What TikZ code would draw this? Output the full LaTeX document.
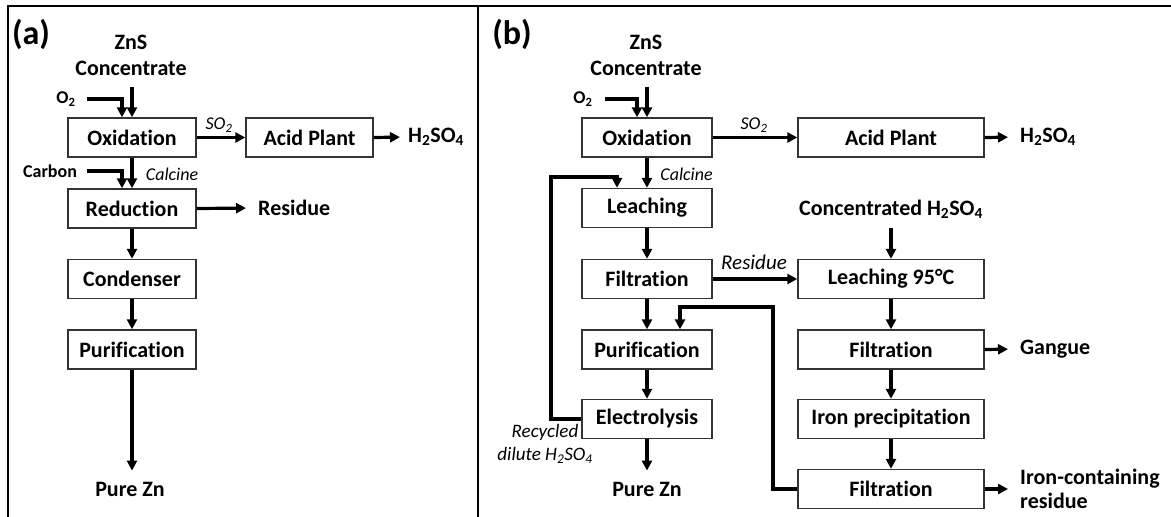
\documentclass[tikz,border=0pt]{standalone}
\usepackage{fontspec}
\setmainfont{Carlito}[Ligatures={NoCommon,NoContextual,NoRare,NoDiscretionary}]
\usetikzlibrary{arrows.meta}
\begin{document}
\begin{tikzpicture}[x=1pt,y=-1pt,
  box/.style={draw=black!80, line width=1.4pt, minimum height=39pt, inner sep=0pt, font=\fontsize{22}{26}\selectfont\bfseries},
  lbl/.style={inner sep=0pt, font=\fontsize{22}{26}\selectfont\bfseries},
  smlbl/.style={inner sep=0pt, font=\fontsize{18}{20}\selectfont\bfseries},
  itlbl/.style={inner sep=0pt, font=\fontsize{18}{20}\selectfont\itshape},
  panel/.style={inner sep=0pt, font=\fontsize{34}{34}\selectfont\bfseries},
  arr/.style={line width=3.2pt, -{Triangle[length=10pt,width=10pt]}},
  framel/.style={line width=2pt}]
\useasboundingbox (0,0) rectangle (1171,517);
% frame
\draw[framel] (8,517) -- (8,6) -- (1171,6);
\draw[framel] (478,6) -- (478,517);

% ---------------- panel (a)
\node[panel] (pa) at (31,34) {(a)};
\node[lbl, align=center] (zna) at (131,55) {ZnS\\Concentrate};
\node[smlbl] (o2a) at (66,99) {O\textsubscript{2}};
\node[box, minimum width=128pt] (oxa) at (132,137.5) {Oxidation};
\node[box, minimum width=127pt] (aca) at (309.5,137.5) {Acid Plant};
\node[lbl, anchor=west] (h2a) at (408,137) {H\textsubscript{2}SO\textsubscript{4}};
\node[itlbl] (so2a) at (219,125) {SO\textsubscript{2}};
\node[smlbl] (cba) at (50,171) {Carbon};
\node[itlbl] (cca) at (172,174) {Calcine};
\node[box, minimum width=128pt] (reda) at (132,208.5) {Reduction};
\node[lbl, anchor=west] (resa) at (258,208) {Residue};
\node[box, minimum width=128pt] (cona) at (132,279) {Condenser};
\node[box, minimum width=128pt] (pura) at (132,349.5) {Purification};
\node[lbl] (pza) at (130,489) {Pure Zn};

\draw[arr, shorten <=12pt] (oxa.north |- zna.south) -- (oxa.north);
\draw[arr, shorten <=11pt] (o2a.east) -| ([xshift=-10pt]oxa.north);
\draw[arr] (oxa.east) -- (aca.west);
\draw[arr, shorten >=8pt] (aca.east) -- (h2a.west);
\draw[arr] (oxa.south) -- (reda.north);
\draw[arr, shorten <=10pt] (cba.east) -| ([xshift=-10pt]reda.north);
\draw[arr, shorten >=12pt] (reda.east) -- (resa.west);
\draw[arr] (reda.south) -- (cona.north);
\draw[arr] (cona.south) -- (pura.north);
\draw[arr, shorten >=11pt] (pura.south) -- (pura.south |- pza.north);

% ---------------- panel (b)
\node[panel] (pb) at (512,34) {(b)};
\node[lbl, align=center] (znb) at (646,55) {ZnS\\Concentrate};
\node[smlbl] (o2b) at (583,99) {O\textsubscript{2}};
\node[box, minimum width=130pt] (oxb) at (647,137.5) {Oxidation};
\node[itlbl] (so2b) at (754,125) {SO\textsubscript{2}};
\node[box, minimum width=186pt] (acb) at (891,137.5) {Acid Plant};
\node[lbl, anchor=west] (h2b) at (1020,137) {H\textsubscript{2}SO\textsubscript{4}};
\node[itlbl] (ccb) at (686.5,174) {Calcine};
\node[box, minimum width=130pt] (leb) at (647,208) {Leaching};
\node[lbl] (conc) at (891,209) {Concentrated H\textsubscript{2}SO\textsubscript{4}};
\node[box, minimum width=130pt] (fib) at (647,279) {Filtration};
\node[itlbl, font=\fontsize{21}{24}\selectfont\itshape] (resb) at (754,262) {Residue};
\node[box, minimum width=186pt] (l95) at (891,279) {Leaching 95°C};
\node[box, minimum width=130pt] (pub) at (647,349.5) {Purification};
\node[box, minimum width=186pt] (f2b) at (891,349.5) {Filtration};
\node[lbl, anchor=west] (gang) at (1020,349) {Gangue};
\node[box, minimum width=130pt] (elb) at (647,419) {Electrolysis};
\node[box, minimum width=186pt] (ipb) at (891,419) {Iron precipitation};
\node[itlbl, font=\fontsize{19}{23}\selectfont\itshape, align=center] (recb) at (545,444) {Recycled\\dilute H\textsubscript{2}SO\textsubscript{4}};
\node[box, minimum width=186pt] (f3b) at (891,489) {Filtration};
\node[lbl, anchor=west, align=left, font=\fontsize{22}{24}\selectfont\bfseries] (icr) at (1020,489) {Iron-containing\\residue};
\node[lbl] (pzb) at (647,489) {Pure Zn};
\coordinate (rc) at (551,177);
\coordinate (lc) at (773,307);

\draw[arr, shorten <=12pt] (oxb.north |- znb.south) -- (oxb.north);
\draw[arr, shorten <=12pt] (o2b.east) -| ([xshift=-10pt]oxb.north);
\draw[arr] (oxb.east) -- (acb.west);
\draw[arr, shorten >=12pt] (acb.east) -- (h2b.west);
\draw[arr] (oxb.south) -- (leb.north);
\draw[arr] (leb.south) -- (fib.north);
\draw[arr] (fib.east) -- (l95.west);
\draw[arr] (fib.south) -- (pub.north);
\draw[arr] (pub.south) -- (elb.north);
\draw[arr, shorten >=11pt] (elb.south) -- (elb.south |- pzb.north);
\draw[arr] (elb.west) -| (rc) -| ([xshift=-30pt]leb.north);
\draw[arr, shorten <=10pt] (conc.south) -- (l95.north);
\draw[arr] (l95.south) -- (f2b.north);
\draw[arr, shorten >=12pt] (f2b.east) -- (gang.west);
\draw[arr] (f2b.south) -- (ipb.north);
\draw[arr] (ipb.south) -- (f3b.north);
\draw[arr, shorten >=12pt] (f3b.east) -- (icr.west);
\draw[arr] (f3b.west) -| (lc) -| ([xshift=33pt]pub.north);
\end{tikzpicture}
\end{document}
